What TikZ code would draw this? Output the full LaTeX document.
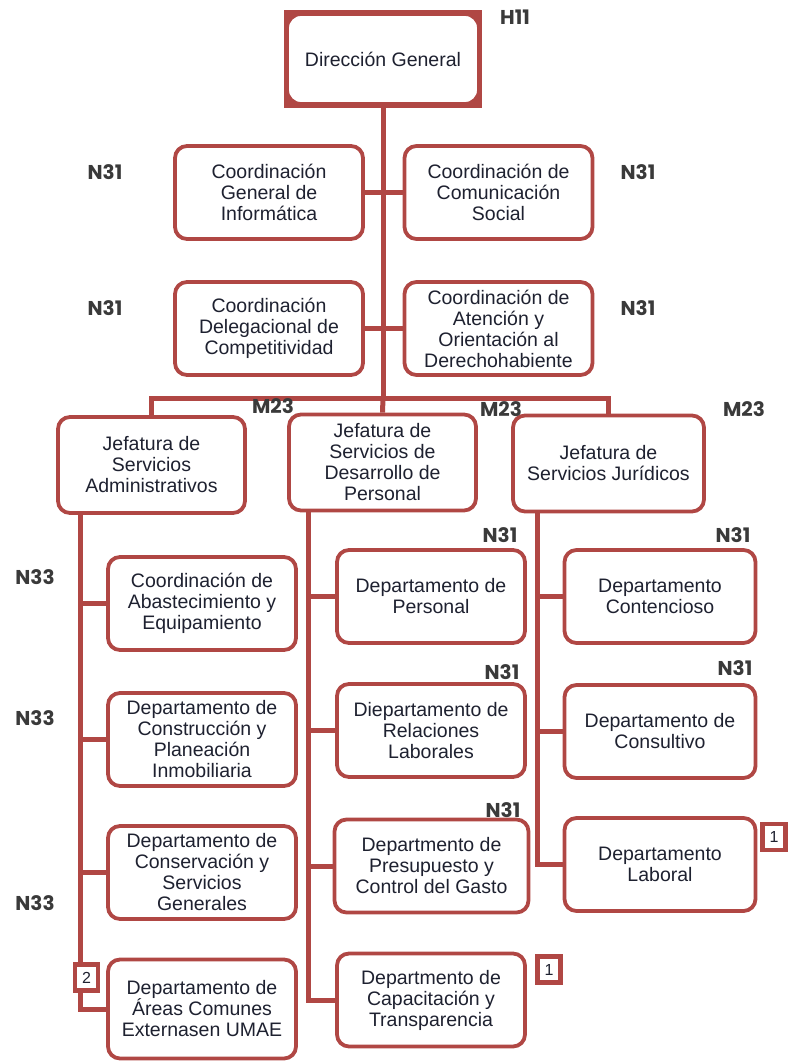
\documentclass[tikz,border=0pt]{standalone}
\usepackage{fontspec}
\setmainfont{Liberation Sans}
\newfontfamily\gradefont{Poppins}
\usetikzlibrary{positioning}
\definecolor{brick}{HTML}{B04744}
\definecolor{ink}{HTML}{1E2130}
\definecolor{gradegray}{HTML}{3A3A3A}
\tikzset{
  unitbox/.style={draw=brick,fill=white,line width=3.8pt,rounded corners=12pt,align=center,minimum width=188pt,minimum height=93pt,inner sep=2pt,text=ink,font=\fontsize{19.5}{21}\selectfont},
  headbox/.style={unitbox,minimum width=187pt,minimum height=96pt},
  link/.style={draw=brick,line width=5pt},
  grade/.style={font=\gradefont\bfseries\fontsize{20}{22}\selectfont,text=gradegray,inner sep=0pt},
  badge/.style={draw=brick,fill=white,line width=4.5pt,minimum width=23pt,minimum height=26pt,inner sep=0pt,text=ink,font=\fontsize{16}{18}\selectfont}
}

\begin{document}
\begin{tikzpicture}[x=1pt,y=-1pt]
  \useasboundingbox (0,0) rectangle (794,1064);

  % top
  \fill[brick] (284,10) rectangle (482,108);
  \node[unitbox,minimum width=192pt,minimum height=90pt,rounded corners=14pt] (dir) at (383,59) {Dirección General};
  \node[unitbox] (cgi) at (269,192.5) {Coordinación\\General de\\Informática};
  \node[unitbox] (ccs) at (498.5,192.5) {Coordinación de\\Comunicación\\Social};
  \node[unitbox] (cdc) at (269,328.5) {Coordinación\\Delegacional de\\Competitividad};
  \node[unitbox] (cao) at (498.5,328.5) {Coordinación de\\Atención y\\Orientación al\\Derechohabiente};

  \node[headbox] (jsa) at (151.5,465) {Jefatura de\\Servicios\\Administrativos};
  \node[headbox] (jsd) at (382.5,462.5) {Jefatura de\\Servicios de\\Desarrollo de\\Personal};
  \node[headbox,minimum width=191pt] (jsj) at (608.5,463.5) {Jefatura de\\Servicios Jurídicos};

  % administrativos
  \node[unitbox] (cae) at (202,603.5) {Coordinación de\\Abastecimiento y\\Equipamiento};
  \node[unitbox] (dcp) at (202,739.5) {Departamento de\\Construcción y\\Planeación\\Inmobiliaria};
  \node[unitbox] (dcs) at (202,872.5) {Departamento de\\Conservación y\\Servicios\\Generales};
  \node[unitbox,minimum height=99pt] (dac) at (202,1009) {Departamento de\\Áreas Comunes\\Externasen UMAE};

  % desarrollo de personal
  \node[unitbox] (dpe) at (431,596.5) {Departamento de\\Personal};
  \node[unitbox] (drl) at (431,730.5) {Diepartamento de\\Relaciones\\Laborales};
  \node[unitbox,minimum width=194pt] (dpc) at (431.5,866) {Departmento de\\Presupuesto y\\Control del Gasto};
  \node[unitbox] (dct) at (431,1000) {Departmento de\\Capacitación y\\Transparencia};

  % juridicos
  \node[unitbox,minimum width=191pt] (dco) at (660,596.5) {Departamento\\Contencioso};
  \node[unitbox,minimum width=191pt] (dcn) at (660,731.5) {Departamento de\\Consultivo};
  \node[unitbox,minimum width=191pt] (dla) at (660,864.5) {Departamento\\Laboral};

  \coordinate (hub) at (383,398);
  \coordinate (c1) at (80,513);
  \coordinate (c2) at (308,510);
  \coordinate (c3) at (537,511);

  \draw[link] (dir.south) -- (hub);
  \draw[link] (cgi.east) -- (ccs.west);
  \draw[link] (cdc.east) -- (cao.west);
  \draw[link] (jsa.north) |- (hub) -| (jsj.north);
  \draw[link] (hub) -- (jsd.north);

  \draw[link] (c1) |- (dac.west);
  \draw[link] (c1 |- cae.west) -- (cae.west);
  \draw[link] (c1 |- dcp.west) -- (dcp.west);
  \draw[link] (c1 |- dcs.west) -- (dcs.west);

  \draw[link] (c2) |- (dct.west);
  \draw[link] (c2 |- dpe.west) -- (dpe.west);
  \draw[link] (c2 |- drl.west) -- (drl.west);
  \draw[link] (c2 |- dpc.west) -- (dpc.west);

  \draw[link] (c3) |- (dla.west);
  \draw[link] (c3 |- dco.west) -- (dco.west);
  \draw[link] (c3 |- dcn.west) -- (dcn.west);

  \node[badge] (b2) at (86.5,977.5) {2};
  \node[badge] (b1a) at (549,969.5) {1};
  \node[badge] (b1b) at (774,837) {1};

  % levels
  \node[grade] (gdir) at (515,17) {H11};
  \node[grade] (gcgi) at (105,172) {N31};
  \node[grade] (gccs) at (638,172) {N31};
  \node[grade] (gcdc) at (105,308) {N31};
  \node[grade] (gcao) at (638,308) {N31};
  \node[grade] (gjsa) at (273,406) {M23};
  \node[grade] (gjsd) at (501,409) {M23};
  \node[grade] (gjsj) at (744,409) {M23};
  \node[grade] (gcae) at (35,577) {N33};
  \node[grade] (gdcp) at (35,718) {N33};
  \node[grade] (gdcs) at (35,903) {N33};
  \node[grade] (gdpe) at (500,535) {N31};
  \node[grade] (gdrl) at (502,672) {N31};
  \node[grade] (gdpc) at (503,810) {N31};
  \node[grade] (gdco) at (733,535) {N31};
  \node[grade] (gdcn) at (735,668) {N31};
\end{tikzpicture}
\end{document}
